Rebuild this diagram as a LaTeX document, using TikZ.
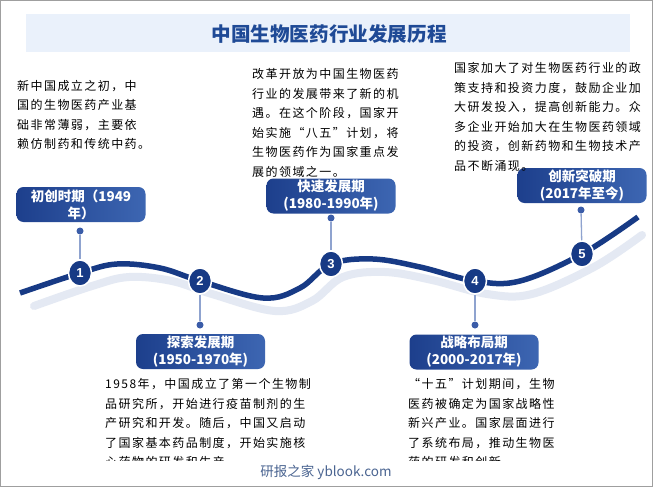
\documentclass[tikz,border=0pt]{standalone}
\usepackage{fontspec}
\usetikzlibrary{shapes.geometric}
\newfontfamily\cjk{Noto Sans CJK SC}
\newfontfamily\cjkbody{Noto Sans CJK SC}[LetterSpace=12]
\newfontfamily\numfont{Liberation Sans}
\definecolor{curvec}{HTML}{173A85}
\definecolor{shadowc}{HTML}{E4E9F3}
\definecolor{boxL}{HTML}{1D3F8C}
\definecolor{boxR}{HTML}{3D66B2}
\definecolor{bandc}{HTML}{EAF1FB}
\definecolor{titlec}{HTML}{1F4A96}
\definecolor{stemc}{HTML}{8FA3CF}
\definecolor{dotc}{HTML}{3A5CA8}
\definecolor{footc}{HTML}{4A6491}
\begin{document}
\begin{tikzpicture}[x=1pt,y=-1pt,
  lbl/.style={rounded corners=7pt, left color=boxL, right color=boxR, text=white,
    font=\cjk\bfseries\fontsize{13.5}{17}\selectfont, align=center,
    minimum width=129pt, minimum height=35pt, inner sep=0pt},
  body/.style={font=\cjkbody\fontsize{12}{19.5}\selectfont, align=left,
    anchor=north west, inner sep=0pt, text=black},
  num/.style={ellipse, fill=curvec, draw=white, line width=1.5pt,
    minimum width=23pt, minimum height=26pt, inner sep=0pt, text=white,
    font=\numfont\bfseries\fontsize{13}{13}\selectfont},
  dotst/.style={circle, fill=dotc, inner sep=0pt, minimum size=7pt},
  stem/.style={draw=stemc, line width=1.3pt}]
\useasboundingbox (0,0) rectangle (653,487);
\fill[white] (0,0) rectangle (653,487);
\draw[gray!75, line width=1.2pt] (0.6,0.6) rectangle (652.4,486.4);
% title band
\fill[bandc] (26,14) rectangle (630,52);
\node[text=titlec, font=\cjk\bfseries\fontsize{19.6}{19.6}\selectfont] (title) at (329,34) {中国生物医药行业发展历程};
% shadow and main curve
\draw[shadowc, line width=8pt, line cap=round, shift={(12,13)}] plot[smooth, tension=0.6] coordinates
  {(22,293) (80,273) (117,264) (160,268) (200,281) (263,298) (300,288) (331,264) (373,259) (420,267) (475,281) (520,281) (582,254) (630,222)};
\draw[curvec, line width=5.5pt] plot[smooth, tension=0.6] coordinates
  {(20,293) (80,273) (117,264) (160,268) (200,281) (263,298) (300,288) (331,264) (373,259) (420,267) (475,281) (520,281) (582,254) (638,217)};
% circles
\node[num] (c1) at (80,273) {1};
\node[num] (c2) at (200,281) {2};
\node[num] (c3) at (331,264) {3};
\node[num] (c4) at (475,281) {4};
\node[num] (c5) at (582,254) {5};
% label boxes
\node[lbl] (b1) at (81,204.5) {初创时期（1949\\年）};
\node[lbl] (b2) at (200.5,351.5) {探索发展期\\(1950-1970年)};
\node[lbl] (b3) at (331,196) {快速发展期\\(1980-1990年)};
\node[lbl] (b4) at (474,352) {战略布局期\\(2000-2017年)};
\node[lbl] (b5) at (582,185.5) {创新突破期\\(2017年至今)};
% dots
\node[dotst] (d1) at (80,231) {};
\node[dotst] (d2) at (200,325) {};
\node[dotst] (d3) at (331,218) {};
\node[dotst] (d4) at (475,325) {};
\node[dotst] (d5) at (581,210) {};
% stems
\draw[stem] (d1) -- (c1);
\draw[stem] (c2) -- (d2);
\draw[stem] (d3) -- (c3);
\draw[stem] (c4) -- (d4);
\draw[stem] (d5) -- (c5);
% body texts
\node[body] (t1) at (17,80) {新中国成立之初，中\\国的生物医药产业基\\础非常薄弱，主要依\\赖仿制药和传统中药。};
\node[body] (t3) at (252,68.5) {改革开放为中国生物医药\\行业的发展带来了新的机\\遇。在这个阶段，国家开\\始实施“八五”计划，将\\生物医药作为国家重点发\\展的领域之一。};
\node[body] (t5) at (454,62.5) {国家加大了对生物医药行业的政\\策支持和投资力度，鼓励企业加\\大研发投入，提高创新能力。众\\多企业开始加大在生物医药领域\\的投资，创新药物和生物技术产\\品不断涌现。};
\begin{scope}
\clip (0,370) rectangle (653,460.5);
\node[body] (t2) at (105,378.5) {1958年，中国成立了第一个生物制\\品研究所，开始进行疫苗制剂的生\\产研究和开发。随后，中国又启动\\了国家基本药品制度，开始实施核\\心药物的研发和生产。};
\node[body] (t4) at (408,378.5) {“十五”计划期间，生物\\医药被确定为国家战略性\\新兴产业。国家层面进行\\了系统布局，推动生物医\\药的研发和创新。};
\end{scope}
\node[text=footc, font=\cjk\fontsize{13.5}{13.5}\selectfont] (foot) at (326,472) {研报之家 yblook.com};
\end{tikzpicture}
\end{document}
